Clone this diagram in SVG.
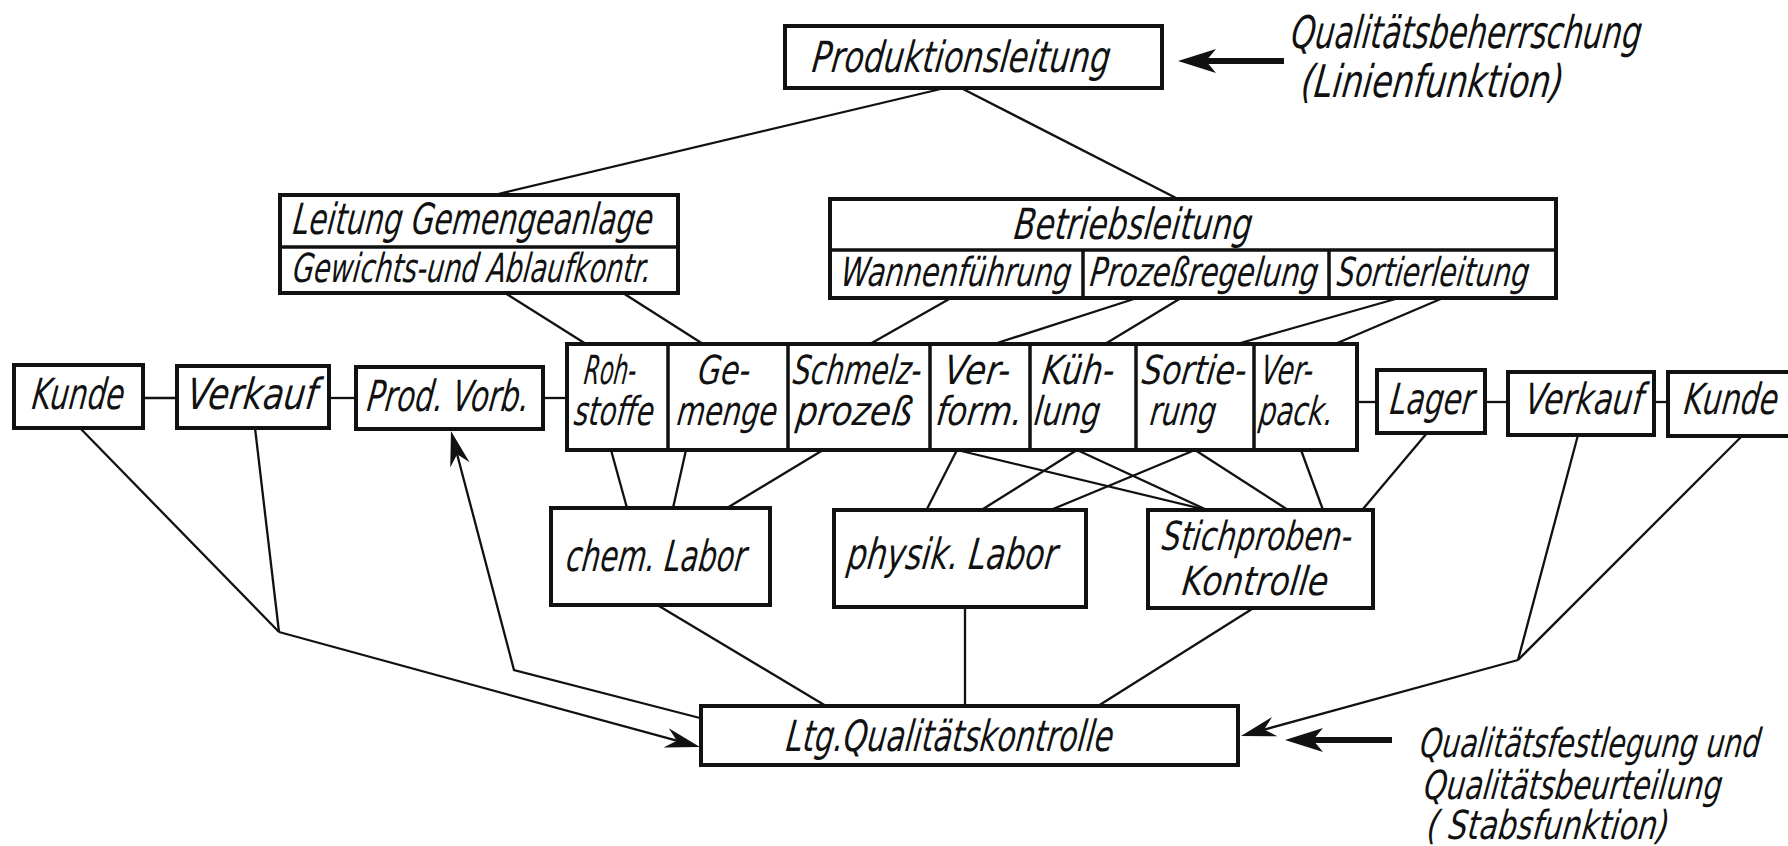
<svg xmlns="http://www.w3.org/2000/svg" width="1788" height="846" viewBox="0 0 1788 846">
<defs>
<style>
.box{fill:#fff;stroke:#111;stroke-width:4}
.div{fill:none;stroke:#111;stroke-width:3.5}
.ln{fill:none;stroke:#111;stroke-width:2.3}
.thk{fill:none;stroke:#111;stroke-width:6}
.t{font-family:"DejaVu Sans Condensed","DejaVu Sans","Liberation Sans",sans-serif;font-style:italic;font-size:43px;fill:#111}
.c{font-size:40px}
.l{font-size:45px}
</style>
<marker id="ah" markerUnits="userSpaceOnUse" markerWidth="40" markerHeight="30" refX="0" refY="0" orient="auto" overflow="visible">
<path d="M24,0 L-11,-10 L0,0 L-11,10 Z" fill="#111"/>
</marker>
<marker id="ahb" markerUnits="userSpaceOnUse" markerWidth="40" markerHeight="30" refX="0" refY="0" orient="auto" overflow="visible">
<path d="M28,0 L-10,-12 L0,0 L-10,12 Z" fill="#111"/>
</marker>
</defs>
<rect width="1788" height="846" fill="#fff"/>

<g id="connectors">
<path class="ln" d="M945,88 L494,195"/>
<path class="ln" d="M961,88 L1178,199"/>
<path class="ln" d="M505,293 L586,344"/>
<path class="ln" d="M623,293 L703,344"/>
<path class="ln" d="M951,298 L870,344"/>
<path class="ln" d="M1137,298 L994,344"/>
<path class="ln" d="M1181,298 L1105,344"/>
<path class="ln" d="M1399,298 L1237,344"/>
<path class="ln" d="M1443,298 L1335,344"/>
<path class="ln" d="M143,398 L177,398"/>
<path class="ln" d="M329,398 L356,398"/>
<path class="ln" d="M543,398 L567,398"/>
<path class="ln" d="M1357,402 L1377,402"/>
<path class="ln" d="M1485,402 L1508,402"/>
<path class="ln" d="M1654,402 L1668,402"/>
<path class="ln" d="M611,450 L627,508"/>
<path class="ln" d="M686,450 L673,508"/>
<path class="ln" d="M823,450 L727,508"/>
<path class="ln" d="M957,450 L927,509"/>
<path class="ln" d="M957,450 L1207,510"/>
<path class="ln" d="M1077,450 L983,509"/>
<path class="ln" d="M1077,450 L1207,510"/>
<path class="ln" d="M1195,450 L1053,509"/>
<path class="ln" d="M1195,450 L1288,510"/>
<path class="ln" d="M1301,450 L1323,510"/>
<path class="ln" d="M1427,433 L1363,509"/>
<path class="ln" d="M659,606 L826,706"/>
<path class="ln" d="M965,608 L965,706"/>
<path class="ln" d="M1252,609 L1098,706"/>
<path class="ln" d="M80,428 L279,632"/>
<path class="ln" d="M255,428 L279,632"/>
<path class="ln" d="M279,632 L676.8,740.7" marker-end="url(#ah)"/>
<path class="ln" d="M700,718 L514,670 L457.1,454.2" marker-end="url(#ah)"/>
<path class="ln" d="M1578,435 L1518,660"/>
<path class="ln" d="M1742,436 L1518,660"/>
<path class="ln" d="M1518,660 L1264.1,729.6" marker-end="url(#ah)"/>
<path class="thk" d="M1284,61 L1206,61" marker-end="url(#ahb)"/>
<path class="thk" d="M1392,740 L1313,740" marker-end="url(#ahb)"/>
</g>

<g id="produktionsleitung">
<rect class="box" x="785" y="26" width="377" height="62"/>
<text class="t" transform="translate(811,72) skewX(-7) scale(0.821,1)" textLength="362.8" lengthAdjust="spacingAndGlyphs">Produktionsleitung</text>
</g>

<g id="label-linienfunktion">
<text class="t l" transform="translate(1290,48) skewX(-7) scale(0.756,1)" textLength="463.1" lengthAdjust="spacingAndGlyphs">Qualitätsbeherrschung</text>
<text class="t l" transform="translate(1300,97) skewX(-7) scale(0.820,1)" textLength="319.6" lengthAdjust="spacingAndGlyphs">(Linienfunktion)</text>
</g>

<g id="leitung-gemengeanlage">
<rect class="box" x="280" y="195" width="398" height="98"/>
<path class="div" d="M280,247 L678,247"/>
<text class="t" transform="translate(292,234) skewX(-7) scale(0.755,1)" textLength="476.5" lengthAdjust="spacingAndGlyphs">Leitung Gemengeanlage</text>
<text class="t c" transform="translate(292,282) skewX(-7) scale(0.747,1)" textLength="479" lengthAdjust="spacingAndGlyphs">Gewichts-und Ablaufkontr.</text>
</g>

<g id="betriebsleitung">
<rect class="box" x="830" y="199" width="726" height="99"/>
<path class="div" d="M830,250 L1556,250 M1083,250 L1083,298 M1329,250 L1329,298"/>
<text class="t" transform="translate(1013,239) skewX(-7) scale(0.807,1)" textLength="294.8" lengthAdjust="spacingAndGlyphs">Betriebsleitung</text>
<text class="t c" transform="translate(840,286) skewX(-7) scale(0.794,1)" textLength="289.8" lengthAdjust="spacingAndGlyphs">Wannenführung</text>
<text class="t c" transform="translate(1089,286) skewX(-7) scale(0.807,1)" textLength="282.5" lengthAdjust="spacingAndGlyphs">Prozeßregelung</text>
<text class="t c" transform="translate(1336,286) skewX(-7) scale(0.782,1)" textLength="245.5" lengthAdjust="spacingAndGlyphs">Sortierleitung</text>
</g>

<g id="kunde-links">
<rect class="box" x="14" y="365" width="129" height="63"/>
<text class="t" transform="translate(31,409) skewX(-7) scale(0.749,1)" textLength="122.8" lengthAdjust="spacingAndGlyphs">Kunde</text>
</g>
<g id="verkauf-links">
<rect class="box" x="177" y="366" width="152" height="62"/>
<text class="t" transform="translate(186,409) skewX(-7) scale(0.864,1)" textLength="150.5" lengthAdjust="spacingAndGlyphs">Verkauf</text>
</g>
<g id="prod-vorb">
<rect class="box" x="356" y="367" width="187" height="62"/>
<text class="t" transform="translate(366,411) skewX(-7) scale(0.753,1)" textLength="215" lengthAdjust="spacingAndGlyphs">Prod. Vorb.</text>
</g>

<g id="prozesskette">
<rect class="box" x="567" y="344" width="790" height="106"/>
<path class="div" d="M668,344 L668,450 M788,344 L788,450 M930,344 L930,450 M1030,344 L1030,450 M1136,344 L1136,450 M1254,344 L1254,450"/>
<text class="t c" transform="translate(583,384) skewX(-7) scale(0.628,1)" textLength="82.8" lengthAdjust="spacingAndGlyphs">Roh-</text>
<text class="t c" transform="translate(573,425) skewX(-7) scale(0.781,1)" textLength="102.4" lengthAdjust="spacingAndGlyphs">stoffe</text>
<text class="t c" transform="translate(697,384) skewX(-7) scale(0.825,1)" textLength="63" lengthAdjust="spacingAndGlyphs">Ge-</text>
<text class="t c" transform="translate(676,425) skewX(-7) scale(0.8,1)" textLength="125" lengthAdjust="spacingAndGlyphs">menge</text>
<text class="t c" transform="translate(792,384) skewX(-7) scale(0.778,1)" textLength="164.6" lengthAdjust="spacingAndGlyphs">Schmelz-</text>
<text class="t c" transform="translate(795,425) skewX(-7) scale(0.941,1)" textLength="123.3" lengthAdjust="spacingAndGlyphs">prozeß</text>
<text class="t c" transform="translate(943,384) skewX(-7) scale(0.885,1)" textLength="74.6" lengthAdjust="spacingAndGlyphs">Ver-</text>
<text class="t c" transform="translate(935,425) skewX(-7) scale(0.896,1)" textLength="96" lengthAdjust="spacingAndGlyphs">form.</text>
<text class="t c" transform="translate(1041,384) skewX(-7) scale(0.876,1)" textLength="82.2" lengthAdjust="spacingAndGlyphs">Küh-</text>
<text class="t c" transform="translate(1033,425) skewX(-7) scale(0.841,1)" textLength="78.5" lengthAdjust="spacingAndGlyphs">lung</text>
<text class="t c" transform="translate(1141,384) skewX(-7) scale(0.875,1)" textLength="118.9" lengthAdjust="spacingAndGlyphs">Sortie-</text>
<text class="t c" transform="translate(1149,425) skewX(-7) scale(0.792,1)" textLength="83.3" lengthAdjust="spacingAndGlyphs">rung</text>
<text class="t c" transform="translate(1260,384) skewX(-7) scale(0.697,1)" textLength="74.6" lengthAdjust="spacingAndGlyphs">Ver-</text>
<text class="t c" transform="translate(1258,425) skewX(-7) scale(0.763,1)" textLength="97" lengthAdjust="spacingAndGlyphs">pack.</text>
</g>

<g id="lager">
<rect class="box" x="1377" y="370" width="108" height="63"/>
<text class="t" transform="translate(1389,414) skewX(-7) scale(0.767,1)" textLength="109.6" lengthAdjust="spacingAndGlyphs">Lager</text>
</g>
<g id="verkauf-rechts">
<rect class="box" x="1508" y="372" width="146" height="63"/>
<text class="t" transform="translate(1524,414) skewX(-7) scale(0.784,1)" textLength="150.5" lengthAdjust="spacingAndGlyphs">Verkauf</text>
</g>
<g id="kunde-rechts">
<rect class="box" x="1668" y="372" width="140" height="64"/>
<text class="t" transform="translate(1683,414) skewX(-7) scale(0.765,1)" textLength="122.8" lengthAdjust="spacingAndGlyphs">Kunde</text>
</g>

<g id="chem-labor">
<rect class="box" x="551" y="508" width="219" height="97"/>
<text class="t" transform="translate(565,571) skewX(-7) scale(0.746,1)" textLength="241.3" lengthAdjust="spacingAndGlyphs">chem. Labor</text>
</g>
<g id="physik-labor">
<rect class="box" x="834" y="510" width="252" height="97"/>
<text class="t" transform="translate(846,569) skewX(-7) scale(0.810,1)" textLength="259.4" lengthAdjust="spacingAndGlyphs">physik. Labor</text>
</g>
<g id="stichproben-kontrolle">
<rect class="box" x="1148" y="510" width="225" height="98"/>
<text class="t c" transform="translate(1161,550) skewX(-7) scale(0.826,1)" textLength="230.1" lengthAdjust="spacingAndGlyphs">Stichproben-</text>
<text class="t c" transform="translate(1181,595) skewX(-7) scale(0.904,1)" textLength="161.5" lengthAdjust="spacingAndGlyphs">Kontrolle</text>
</g>

<g id="ltg-qualitaetskontrolle">
<rect class="box" x="701" y="706" width="537" height="59"/>
<text class="t" transform="translate(785,751) skewX(-7) scale(0.781,1)" textLength="418.7" lengthAdjust="spacingAndGlyphs">Ltg.Qualitätskontrolle</text>
</g>

<g id="label-stabsfunktion">
<text class="t c" transform="translate(1419,757) skewX(-7) scale(0.785,1)" textLength="433.4" lengthAdjust="spacingAndGlyphs">Qualitätsfestlegung und</text>
<text class="t c" transform="translate(1423,799) skewX(-7) scale(0.806,1)" textLength="369.6" lengthAdjust="spacingAndGlyphs">Qualitätsbeurteilung</text>
<text class="t c" transform="translate(1426,839) skewX(-7) scale(0.839,1)" textLength="288.3" lengthAdjust="spacingAndGlyphs">( Stabsfunktion)</text>
</g>
</svg>
